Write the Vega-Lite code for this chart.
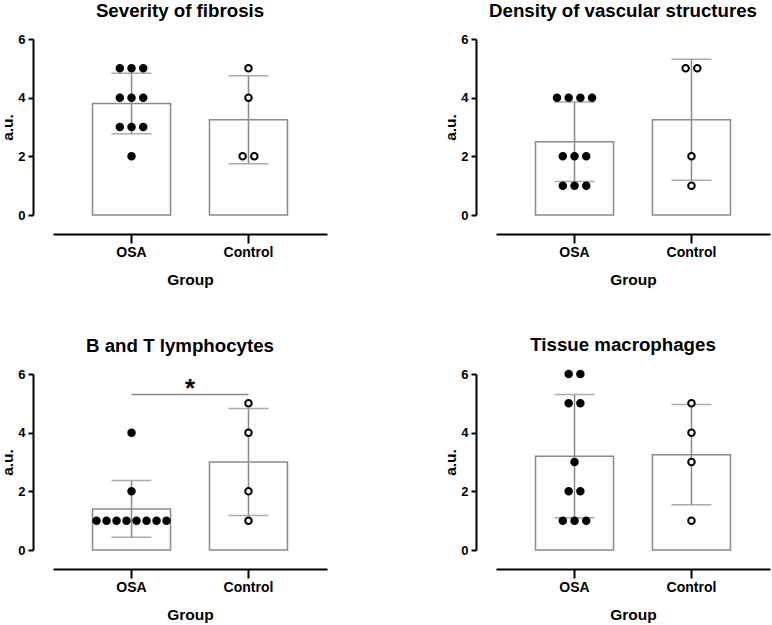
{
  "$schema": "https://vega.github.io/schema/vega-lite/v6.json",
  "padding": {"left": 0, "top": 2, "right": 2, "bottom": 2},
  "datasets": {
    "fibrosis": [
      {"group": "OSA", "value": 5}, {"group": "OSA", "value": 5}, {"group": "OSA", "value": 5},
      {"group": "OSA", "value": 4}, {"group": "OSA", "value": 4}, {"group": "OSA", "value": 4},
      {"group": "OSA", "value": 3}, {"group": "OSA", "value": 3}, {"group": "OSA", "value": 3},
      {"group": "OSA", "value": 2},
      {"group": "Control", "value": 5}, {"group": "Control", "value": 4},
      {"group": "Control", "value": 2}, {"group": "Control", "value": 2}
    ],
    "vascular": [
      {"group": "OSA", "value": 4}, {"group": "OSA", "value": 4}, {"group": "OSA", "value": 4},
      {"group": "OSA", "value": 4}, {"group": "OSA", "value": 2}, {"group": "OSA", "value": 2},
      {"group": "OSA", "value": 2}, {"group": "OSA", "value": 1}, {"group": "OSA", "value": 1},
      {"group": "OSA", "value": 1},
      {"group": "Control", "value": 5}, {"group": "Control", "value": 5},
      {"group": "Control", "value": 2}, {"group": "Control", "value": 1}
    ],
    "lymphocytes": [
      {"group": "OSA", "value": 4}, {"group": "OSA", "value": 2}, {"group": "OSA", "value": 1},
      {"group": "OSA", "value": 1}, {"group": "OSA", "value": 1}, {"group": "OSA", "value": 1},
      {"group": "OSA", "value": 1}, {"group": "OSA", "value": 1}, {"group": "OSA", "value": 1},
      {"group": "OSA", "value": 1},
      {"group": "Control", "value": 5}, {"group": "Control", "value": 4},
      {"group": "Control", "value": 2}, {"group": "Control", "value": 1}
    ],
    "macrophages": [
      {"group": "OSA", "value": 6}, {"group": "OSA", "value": 6}, {"group": "OSA", "value": 5},
      {"group": "OSA", "value": 5}, {"group": "OSA", "value": 3}, {"group": "OSA", "value": 2},
      {"group": "OSA", "value": 2}, {"group": "OSA", "value": 1}, {"group": "OSA", "value": 1},
      {"group": "OSA", "value": 1},
      {"group": "Control", "value": 5}, {"group": "Control", "value": 4},
      {"group": "Control", "value": 3}, {"group": "Control", "value": 1}
    ]
  },
  "columns": 2,
  "spacing": {"column": 116, "row": 48},
  "concat": [
    {
      "title": "Severity of fibrosis",
      "data": {"name": "fibrosis"},
      "width": 274,
      "height": 176,
      "resolve": {"scale": {"xOffset": "independent"}},
      "encoding": {
        "x": {"field": "group", "type": "nominal", "sort": ["OSA", "Control"], "title": "Group",
              "scale": {"paddingInner": 0.333, "paddingOuter": 0.338}}
      },
      "layer": [
        {
          "mark": {"type": "bar", "fill": "white", "stroke": "#8a8a8a", "strokeWidth": 1.5},
          "encoding": {"y": {"aggregate": "mean", "field": "value", "type": "quantitative", "title": "a.u.",
                             "scale": {"domain": [0, 6], "nice": false}, "axis": {"values": [0, 2, 4, 6]}}}
        },
        {
          "mark": {"type": "errorbar", "extent": "stdev", "ticks": true, "size": 40, "thickness": 1.5, "color": "#8a8a8a"},
          "encoding": {"y": {"field": "value", "type": "quantitative", "title": "a.u."}}
        },
        {
          "transform": [
            {"window": [{"op": "row_number", "as": "k"}], "groupby": ["group", "value"]},
            {"joinaggregate": [{"op": "count", "as": "n"}], "groupby": ["group", "value"]},
            {"calculate": "datum.k - (datum.n + 1) / 2", "as": "slot"}
          ],
          "mark": {"type": "point", "shape": "circle", "size": 42, "stroke": "black", "strokeWidth": 2, "opacity": 1},
          "encoding": {
            "y": {"field": "value", "type": "quantitative", "title": "a.u."},
            "xOffset": {"field": "slot", "type": "quantitative", "scale": {"domain": [-1, 1], "range": [27.3, 50.7], "nice": false}},
            "fill": {"condition": {"test": "datum.group === 'OSA'", "value": "black"}, "value": "white"}
          }
        }
      ]
    },
    {
      "title": "Density of vascular structures",
      "data": {"name": "vascular"},
      "width": 274,
      "height": 176,
      "resolve": {"scale": {"xOffset": "independent"}},
      "encoding": {
        "x": {"field": "group", "type": "nominal", "sort": ["OSA", "Control"], "title": "Group",
              "scale": {"paddingInner": 0.333, "paddingOuter": 0.338}}
      },
      "layer": [
        {
          "mark": {"type": "bar", "fill": "white", "stroke": "#8a8a8a", "strokeWidth": 1.5},
          "encoding": {"y": {"aggregate": "mean", "field": "value", "type": "quantitative", "title": "a.u.",
                             "scale": {"domain": [0, 6], "nice": false}, "axis": {"values": [0, 2, 4, 6]}}}
        },
        {
          "mark": {"type": "errorbar", "extent": "stdev", "ticks": true, "size": 40, "thickness": 1.5, "color": "#8a8a8a"},
          "encoding": {"y": {"field": "value", "type": "quantitative", "title": "a.u."}}
        },
        {
          "transform": [
            {"window": [{"op": "row_number", "as": "k"}], "groupby": ["group", "value"]},
            {"joinaggregate": [{"op": "count", "as": "n"}], "groupby": ["group", "value"]},
            {"calculate": "datum.k - (datum.n + 1) / 2", "as": "slot"}
          ],
          "mark": {"type": "point", "shape": "circle", "size": 42, "stroke": "black", "strokeWidth": 2, "opacity": 1},
          "encoding": {
            "y": {"field": "value", "type": "quantitative", "title": "a.u."},
            "xOffset": {"field": "slot", "type": "quantitative", "scale": {"domain": [-1, 1], "range": [27.3, 50.7], "nice": false}},
            "fill": {"condition": {"test": "datum.group === 'OSA'", "value": "black"}, "value": "white"}
          }
        }
      ]
    },
    {
      "title": "B and T lymphocytes",
      "data": {"name": "lymphocytes"},
      "width": 274,
      "height": 176,
      "resolve": {"scale": {"xOffset": "independent"}},
      "encoding": {
        "x": {"field": "group", "type": "nominal", "sort": ["OSA", "Control"], "title": "Group",
              "scale": {"paddingInner": 0.333, "paddingOuter": 0.338}}
      },
      "layer": [
        {
          "mark": {"type": "bar", "fill": "white", "stroke": "#8a8a8a", "strokeWidth": 1.5},
          "encoding": {"y": {"aggregate": "mean", "field": "value", "type": "quantitative", "title": "a.u.",
                             "scale": {"domain": [0, 6], "nice": false}, "axis": {"values": [0, 2, 4, 6]}}}
        },
        {
          "mark": {"type": "errorbar", "extent": "stdev", "ticks": true, "size": 40, "thickness": 1.5, "color": "#8a8a8a"},
          "encoding": {"y": {"field": "value", "type": "quantitative", "title": "a.u."}}
        },
        {
          "transform": [
            {"window": [{"op": "row_number", "as": "k"}], "groupby": ["group", "value"]},
            {"joinaggregate": [{"op": "count", "as": "n"}], "groupby": ["group", "value"]},
            {"calculate": "datum.k - (datum.n + 1) / 2", "as": "slot"}
          ],
          "mark": {"type": "point", "shape": "circle", "size": 42, "stroke": "black", "strokeWidth": 2, "opacity": 1},
          "encoding": {
            "y": {"field": "value", "type": "quantitative", "title": "a.u."},
            "xOffset": {"field": "slot", "type": "quantitative", "scale": {"domain": [-1, 1], "range": [29, 49], "nice": false}},
            "fill": {"condition": {"test": "datum.group === 'OSA'", "value": "black"}, "value": "white"}
          }
        },
        {
          "data": {"values": [{"group": "OSA", "to": "Control", "label": "*"}]},
          "layer": [
            {
              "mark": {"type": "rule", "color": "#8a8a8a", "strokeWidth": 1.5},
              "encoding": {
                "x2": {"field": "to"},
                "y": {"datum": 5.3, "type": "quantitative"}
              }
            },
            {
              "mark": {"type": "text", "fontSize": 26, "fontWeight": "bold", "baseline": "alphabetic", "color": "black"},
              "encoding": {
                "x": {"field": "group", "type": "nominal", "sort": ["OSA", "Control"], "title": "Group", "bandPosition": 1.25},
                "y": {"datum": 5.2, "type": "quantitative"},
                "text": {"field": "label"}
              }
            }
          ]
        }
      ]
    },
    {
      "title": "Tissue macrophages",
      "data": {"name": "macrophages"},
      "width": 274,
      "height": 176,
      "resolve": {"scale": {"xOffset": "independent"}},
      "encoding": {
        "x": {"field": "group", "type": "nominal", "sort": ["OSA", "Control"], "title": "Group",
              "scale": {"paddingInner": 0.333, "paddingOuter": 0.338}}
      },
      "layer": [
        {
          "mark": {"type": "bar", "fill": "white", "stroke": "#8a8a8a", "strokeWidth": 1.5},
          "encoding": {"y": {"aggregate": "mean", "field": "value", "type": "quantitative", "title": "a.u.",
                             "scale": {"domain": [0, 6], "nice": false}, "axis": {"values": [0, 2, 4, 6]}}}
        },
        {
          "mark": {"type": "errorbar", "extent": "stdev", "ticks": true, "size": 40, "thickness": 1.5, "color": "#8a8a8a"},
          "encoding": {"y": {"field": "value", "type": "quantitative", "title": "a.u."}}
        },
        {
          "transform": [
            {"window": [{"op": "row_number", "as": "k"}], "groupby": ["group", "value"]},
            {"joinaggregate": [{"op": "count", "as": "n"}], "groupby": ["group", "value"]},
            {"calculate": "datum.k - (datum.n + 1) / 2", "as": "slot"}
          ],
          "mark": {"type": "point", "shape": "circle", "size": 42, "stroke": "black", "strokeWidth": 2, "opacity": 1},
          "encoding": {
            "y": {"field": "value", "type": "quantitative", "title": "a.u."},
            "xOffset": {"field": "slot", "type": "quantitative", "scale": {"domain": [-1, 1], "range": [27.3, 50.7], "nice": false}},
            "fill": {"condition": {"test": "datum.group === 'OSA'", "value": "black"}, "value": "white"}
          }
        }
      ]
    }
  ],
  "config": {
    "font": "Liberation Sans",
    "view": {"stroke": null},
    "title": {"fontSize": 18.7, "fontWeight": "bold", "color": "black", "dx": -10, "offset": 12},
    "axis": {
      "grid": false,
      "domainColor": "black",
      "domainWidth": 2,
      "tickColor": "black",
      "tickWidth": 2,
      "tickSize": 5,
      "labelFontWeight": "bold",
      "labelColor": "black",
      "titleFontWeight": "bold",
      "titleFontSize": 15.5,
      "titleColor": "black"
    },
    "axisY": {"offset": 20, "labelFontSize": 13, "labelPadding": 3, "titlePadding": 2},
    "axisX": {"offset": 19, "labelFontSize": 14, "labelAngle": 0, "labelPadding": 2, "titlePadding": 13,
              "ticks": true, "tickSize": 9, "tickWidth": 2, "tickColor": "black", "tickBand": "center"},
    "axisBand": {"ticks": true, "tickSize": 9}
  }
}
